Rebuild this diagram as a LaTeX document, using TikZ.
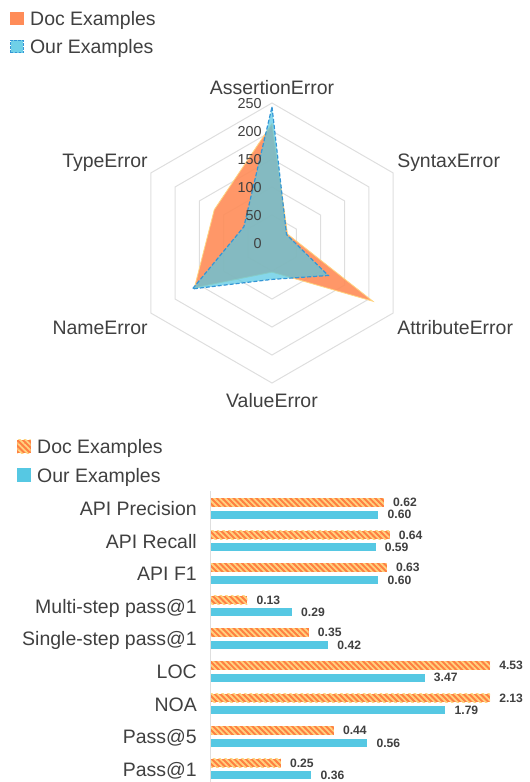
\documentclass[tikz,border=0pt]{standalone}
\usepackage{fontspec}
\setmainfont{Liberation Sans}
\usepackage{xcolor}
\usepackage{tikz}
\usetikzlibrary{positioning,calc,patterns.meta}

\definecolor{docorange}{RGB}{255,128,66}
\definecolor{docyellow}{RGB}{255,212,128}
\definecolor{radarorange}{RGB}{255,140,88}
\definecolor{ourcyan}{RGB}{86,200,227}
\definecolor{ourblue}{RGB}{52,150,214}
\definecolor{gridgray}{RGB}{222,222,222}
\definecolor{txtgray}{RGB}{64,64,64}

\begin{document}
\begin{tikzpicture}[x=0.75pt, y=-0.75pt, >=stealth, text=txtgray]
        \tikzstyle{lbl} = [inner sep=0pt, text height=10.5pt, text depth=0pt, font=\fontsize{14.6}{16}\selectfont]
        \tikzstyle{ticklbl} = [inner sep=0pt, anchor=east, text height=7.7pt, text depth=0pt, font=\fontsize{10.8}{12}\selectfont]
        \tikzstyle{vallbl} = [inner sep=0pt, anchor=west, text height=6.5pt, text depth=0pt, font=\bfseries\fontsize{9.1}{10}\selectfont]
        \tikzstyle{catlbl} = [lbl, anchor=east]
        \tikzstyle{docbar} = [fill=docorange, postaction={pattern={Lines[angle=-45,distance=3pt,line width=1.3pt]}, pattern color=docyellow}]
        \tikzstyle{ourbar} = [fill=ourcyan]
        \tikzstyle{docarea} = [fill=radarorange, fill opacity=0.9, draw=docyellow, line width=0.6pt]
        \tikzstyle{ourarea} = [fill=ourcyan, fill opacity=0.72, draw=ourblue, line width=0.9pt, dash pattern=on 3pt off 1.5pt]
        \tikzstyle{sq} = [minimum size=10pt, inner sep=0pt]
        \tikzstyle{grid} = [draw=gridgray, line width=0.75pt]

        \useasboundingbox (0,0) rectangle (529,782);

        % radar legend
        \node [sq, fill=radarorange] (docsq) at (17,18.5) {};
        \node [lbl, anchor=west, right=4.5pt of docsq] (doclegend) {Doc Examples};
        \node [sq, minimum size=9.5pt, fill=ourcyan!85, draw=ourblue, line width=0.7pt, dash pattern=on 2pt off 1pt] (oursq) at (17,46.5) {};
        \node [lbl, anchor=west, right=4.5pt of oursq] (ourlegend) {Our Examples};

        % radar chart, one unit = one error
        \begin{scope}[shift={(272,243)}, x=0.42pt, y=0.42pt]
            \foreach \r in {50,100,...,250}
                \path [grid] (90:\r) -- (30:\r) -- (-30:\r) -- (-90:\r) -- (210:\r) -- (150:\r) -- cycle;
            \path [docarea] (90:213) -- (30:32) -- (-30:208) -- (-90:52) -- (210:160) -- (150:119) -- cycle;
            \path [ourarea] (90:243) -- (30:30) -- (-30:116) -- (-90:65) -- (210:164) -- (150:58) -- cycle;
            \foreach \r in {0,50,...,250}
                \node [ticklbl, xshift=-7.5pt] (tick\r) at (0,\r) {\r};
        \end{scope}

        \node [lbl] (assertion) at (272,87) {AssertionError};
        \node [lbl, anchor=west] (syntax) at (397,160) {SyntaxError};
        \node [lbl, anchor=west] (attribute) at (397,327) {AttributeError};
        \node [lbl] (value) at (272,400) {ValueError};
        \node [lbl, anchor=east] (name) at (148,327) {NameError};
        \node [lbl, anchor=east] (type) at (148,160) {TypeError};

        % bar legend
        \node [sq, docbar] (docbarsq) at (24,446.5) {};
        \node [lbl, anchor=west, right=4.5pt of docbarsq] (docbarlegend) {Doc Examples};
        \node [sq, ourbar] (ourbarsq) at (24,475) {};
        \node [lbl, anchor=west, right=4.5pt of ourbarsq] (ourbarlegend) {Our Examples};

        % bar chart: label / doc length / doc value / our length / our value
        \path [grid] (210.5,491) -- (210.5,782);
        \foreach \lab/\dl/\dt/\ol/\ot [count=\i from 0] in {
                API Precision/0.62/0.62/0.60/0.60,
                API Recall/0.64/0.64/0.59/0.59,
                API F1/0.63/0.63/0.60/0.60,
                Multi-step pass@1/0.13/0.13/0.29/0.29,
                Single-step pass@1/0.35/0.35/0.42/0.42,
                LOC/1.0/4.53/0.766/3.47,
                NOA/1.0/2.13/0.840/1.79,
                Pass@5/0.44/0.44/0.56/0.56,
                Pass@1/0.25/0.25/0.36/0.36} {
            \pgfmathsetmacro{\yy}{498+32.6*\i}
            \node [catlbl] (cat\i) at (197,\yy+10.5) {\lab};
            \path [docbar] (211,\yy) rectangle (211+279*\dl,\yy+8.5);
            \node [vallbl] (docval\i) at (220+279*\dl,\yy+4.25) {\dt};
            \path [ourbar] (211,\yy+12.5) rectangle (211+279*\ol,\yy+20.5);
            \node [vallbl] (ourval\i) at (220+279*\ol,\yy+16.5) {\ot};
        }
    \end{tikzpicture}
\end{document}
